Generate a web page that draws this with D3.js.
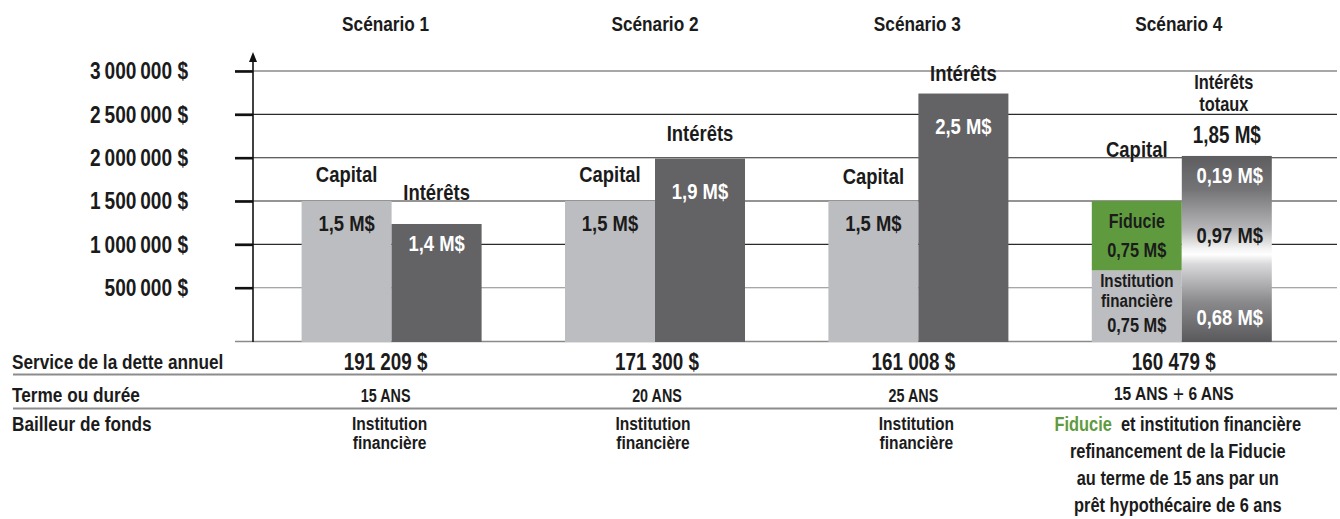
<!DOCTYPE html>
<html><head><meta charset="utf-8">
<script src="https://cdn.jsdelivr.net/npm/d3@7"></script>
<style>
html,body{margin:0;padding:0;background:#fff;}
svg{display:block;}
text{font-family:'Liberation Sans',Arial,sans-serif;font-weight:bold;fill:#1b1b1b;}
</style></head>
<body>
<svg id="chart" width="1340" height="519"></svg>
<script>
// ---------- DATA ----------
const scenarios = ["Scénario 1", "Scénario 2", "Scénario 3", "Scénario 4"];
const capital = [1500000, 1500000, 1500000, 1500000];          // bar heights as drawn
const interets = [1235000, 1990000, 2740000, 2020000];         // bar heights as drawn
const capitalLabels = ["1,5 M$", "1,5 M$", "1,5 M$", ""];
const interetsLabels = ["1,4 M$", "1,9 M$", "2,5 M$", ""];
const s4CapitalParts = ["Institution financière", "Fiducie"];
const s4CapitalValues = [700000, 800000];
const s4CapitalLabels = [["Institution", "financière", "0,75 M$"], ["Fiducie", "0,75 M$"]];
const s4InteretsTitle = ["Intérêts", "totaux"];
const s4InteretsTotal = "1,85 M$";
const s4InteretsLabels = ["0,19 M$", "0,97 M$", "0,68 M$"];
const tickValues = [500000, 1000000, 1500000, 2000000, 2500000, 3000000];
const rowLabels = ["Service de la dette annuel", "Terme ou durée", "Bailleur de fonds"];
const serviceDette = ["191 209 $", "171 300 $", "161 008 $", "160 479 $"];
const termes = [["15 ANS"], ["20 ANS"], ["25 ANS"], ["15 ANS", "+", "6 ANS"]];
const bailleurs = [
  ["Institution", "financière"],
  ["Institution", "financière"],
  ["Institution", "financière"],
  ["Fiducie|et institution financière", "refinancement de la Fiducie", "au terme de 15 ans par un", "prêt hypothécaire de 6 ans"]
];

// ---------- LAYOUT ----------
const svg = d3.select("#chart");
const C_CAP = "#bcbdc0", C_INT = "#636365", C_GREEN = "#5f9b3e";
const baseY = 341, axisX = 253, gridRight = 1337;
const SQUEEZE = 0.82;
const titleShift = [-6, 0, -1, -3];
const tableShift = [-6, 2, -5, -8];

const y = d3.scaleLinear().domain([0, 500000, 3000000]).range([baseY, 287.7, 71]);
const x = d3.scaleBand().domain(scenarios).range([301.6, 1271.8]).paddingInner(0.3166).paddingOuter(0);
const xs = d3.scaleBand().domain(["capital", "interets"]).range([0, x.bandwidth()]);

const fmtLocale = d3.formatLocale({decimal: ",", thousands: "\u2009", grouping: [3], currency: ["", " $"]});
const fmt = v => fmtLocale.format(",d")(v) + " $";

// gridlines
svg.append("g").selectAll("line").data(tickValues).join("line")
  .attr("x1", 235).attr("x2", gridRight)
  .attr("y1", d => y(d)).attr("y2", d => y(d))
  .attr("stroke", (d, i) => (i === 0 || i === tickValues.length - 1) ? "#8a8a8a" : "#2a2a2a")
  .attr("stroke-width", (d, i) => i === tickValues.length - 1 ? 1.6 : 1.1);
svg.append("line").attr("x1", 235).attr("x2", gridRight).attr("y1", baseY + 0.5).attr("y2", baseY + 0.5)
  .attr("stroke", "#8a8a8a").attr("stroke-width", 1.5);

// gradient for scenario 4 interest bar
const defs = svg.append("defs");
const grad = defs.append("linearGradient").attr("id", "gInt").attr("x1", 0).attr("x2", 0).attr("y1", 0).attr("y2", 1);
[[0, "#5e5e61"], [0.18, "#747477"], [0.40, "#b9b9bb"], [0.50, "#f4f4f4"], [0.53, "#ffffff"], [0.58, "#dadadc"], [0.78, "#8b8b8e"], [1, "#59595c"]]
  .forEach(([o, c]) => grad.append("stop").attr("offset", o).attr("stop-color", c));

// bars
const groups = svg.append("g").selectAll("g").data(scenarios).join("g")
  .attr("transform", d => `translate(${x(d)},0)`);

groups.each(function(s, i) {
  const g = d3.select(this);
  const cx = xs("capital"), ix = xs("interets"), bw = xs.bandwidth();
  if (i < 3) {
    g.append("rect").attr("x", cx).attr("width", bw).attr("y", y(capital[i])).attr("height", baseY + 1 - y(capital[i])).attr("fill", C_CAP);
    g.append("rect").attr("x", ix).attr("width", bw).attr("y", y(interets[i])).attr("height", baseY + 1 - y(interets[i])).attr("fill", C_INT);
  } else {
    let acc = 0;
    s4CapitalValues.forEach((v, k) => {
      g.append("rect").attr("x", cx).attr("width", bw)
        .attr("y", y(acc + v)).attr("height", y(acc) - y(acc + v) + (k === 0 ? 1 : 0))
        .attr("fill", k === 0 ? C_CAP : C_GREEN);
      acc += v;
    });
    g.append("rect").attr("x", ix).attr("width", bw).attr("y", y(interets[i])).attr("height", baseY + 1 - y(interets[i])).attr("fill", "url(#gInt)");
  }
});

// labels on bars
const capLabelOff = [-27, -27, -25, -52];
const intLabelOff = [-32, -26, -21, 0];
const capValOff = 22;
const intValOff = [19, 32, 32, 0];

function label(g, xx, yy, size, txt, color) {
  const t = g.append("text").attr("x", xx).attr("y", yy).attr("text-anchor", "middle")
    .attr("dominant-baseline", "central").attr("font-size", size).text(txt);
  if (color) t.style("fill", color);
  return t;
}
function multiLabel(g, xx, ys, size, lines) {
  const t = g.append("text").attr("x", xx).attr("text-anchor", "middle").attr("font-size", size);
  lines.forEach((ln, k) => t.append("tspan").attr("x", xx).attr("y", ys[k]).attr("dominant-baseline", "central").text(ln));
  return t;
}

groups.each(function(s, i) {
  const g = d3.select(this);
  const ccx = xs("capital") + xs.bandwidth() / 2;
  const icx = xs("interets") + xs.bandwidth() / 2;
  const capTop = y(capital[i]), intTop = y(interets[i]);
  label(g, ccx, capTop + capLabelOff[i], 22.5, "Capital");
  if (i < 3) {
    label(g, icx, intTop + intLabelOff[i], 22.5, "Intérêts");
    label(g, ccx, capTop + capValOff, 22.5, capitalLabels[i]);
    label(g, icx, intTop + intValOff[i], 22.5, interetsLabels[i], "#ffffff");
  } else {
    multiLabel(g, icx - 3, [intTop - 74, intTop - 52], 20, s4InteretsTitle);
    label(g, icx, intTop - 21, 23, s4InteretsTotal);
    const h = baseY - intTop;
    const fr = [0.104, 0.428, 0.869];
    s4InteretsLabels.forEach((t, k) => label(g, icx + 3, intTop + fr[k] * h, 22.5, t, k === 1 ? "#1b1b1b" : "#ffffff"));
    const instTop = y(s4CapitalValues[0]);
    const fidTop = y(s4CapitalValues[0] + s4CapitalValues[1]);
    const fidLines = s4CapitalLabels[1];
    label(g, ccx, fidTop + 20, 19.5, fidLines[0]);
    label(g, ccx, fidTop + 49, 20, fidLines[1]);
    const instLines = s4CapitalLabels[0];
    multiLabel(g, ccx, [instTop + 10.5, instTop + 30.5], 18.5, instLines.slice(0, 2));
    label(g, ccx, instTop + 55, 20, instLines[2]);
  }
});

// scenario titles
svg.append("g").selectAll("text").data(scenarios).join("text")
  .attr("x", (d, i) => x(d) + x.bandwidth() / 2 + titleShift[i]).attr("y", 24)
  .attr("text-anchor", "middle").attr("dominant-baseline", "central").attr("font-size", 21)
  .text(d => d);

// y axis
const yAxis = d3.axisLeft(y).tickValues(tickValues).tickSize(18).tickPadding(47).tickFormat(fmt);
const ag = svg.append("g").attr("transform", `translate(${axisX},0)`).call(yAxis);
ag.select(".domain").remove();
ag.selectAll(".tick line").attr("stroke", "#111").attr("stroke-width", 2.6);
ag.selectAll(".tick text").attr("font-size", 23.3).attr("font-family", null).style("fill", "#1b1b1b").attr("dy", "0.34em");
svg.append("line").attr("x1", axisX).attr("x2", axisX).attr("y1", baseY + 1).attr("y2", 60)
  .attr("stroke", "#111").attr("stroke-width", 1.6);
svg.append("path").attr("d", `M${axisX - 4},62 L${axisX},52 L${axisX + 4},62 Z`).attr("fill", "#111");

// table
const rowY = [361.5, 394.5, 424];
svg.append("g").selectAll("text").data(rowLabels).join("text")
  .attr("x", 12).attr("y", (d, i) => rowY[i]).attr("dominant-baseline", "central")
  .attr("font-size", 21).text(d => d);
[374.5, 408.5].forEach(yy => {
  svg.append("line").attr("x1", 13).attr("x2", gridRight).attr("y1", yy).attr("y2", yy)
    .attr("stroke", "#8c8c8c").attr("stroke-width", 2);
});
svg.append("g").selectAll("text").data(scenarios).join("text")
  .attr("x", (d, i) => x(d) + x.bandwidth() / 2 + tableShift[i]).attr("y", rowY[0])
  .attr("text-anchor", "middle").attr("dominant-baseline", "central").attr("font-size", 23)
  .text((d, i) => serviceDette[i]);
const tg = svg.append("g").selectAll("text").data(scenarios).join("text")
  .attr("x", (d, i) => x(d) + x.bandwidth() / 2 + tableShift[i]).attr("y", (d, i) => i === 3 ? 393 : 395)
  .attr("text-anchor", "middle").attr("dominant-baseline", "central").attr("font-size", (d, i) => i === 3 ? 19 : 17.5);
tg.each(function(d, i) {
  const t = d3.select(this);
  termes[i].forEach((p, k) => {
    const ts = t.append("tspan").text((k > 0 ? " " : "") + p);
    if (p === "+") ts.attr("font-weight", "normal").attr("font-size", 23);
  });
});
const bg = svg.append("g").selectAll("text").data(scenarios).join("text")
  .attr("text-anchor", "middle").attr("font-size", (d, i) => i === 3 ? 20 : 19);
bg.each(function(d, i) {
  const t = d3.select(this);
  const cx = x(d) + x.bandwidth() / 2 + (i === 3 ? -4 : -2);
  t.attr("x", cx);
  const lines = bailleurs[i];
  const y0 = i === 3 ? 424 : 423, lh = i === 3 ? 27 : 19.5;
  lines.forEach((ln, k) => {
    const parts = ln.split("|");
    const ts = t.append("tspan").attr("x", cx).attr("y", y0 + k * lh).attr("dominant-baseline", "central");
    if (parts.length > 1) {
      ts.append("tspan").style("fill", C_GREEN).text(parts[0] + "\u00a0\u00a0");
      ts.append("tspan").text(parts[1]);
    } else ts.text(ln);
  });
});

// condensed look: squeeze every text horizontally around its anchor x
svg.selectAll("text").each(function() {
  const xx = +(this.getAttribute("x") || 0);
  const prev = this.getAttribute("transform") || "";
  this.setAttribute("transform", `${prev} translate(${xx},0) scale(${SQUEEZE},1) translate(${-xx},0)`);
});
</script>
</body></html>
